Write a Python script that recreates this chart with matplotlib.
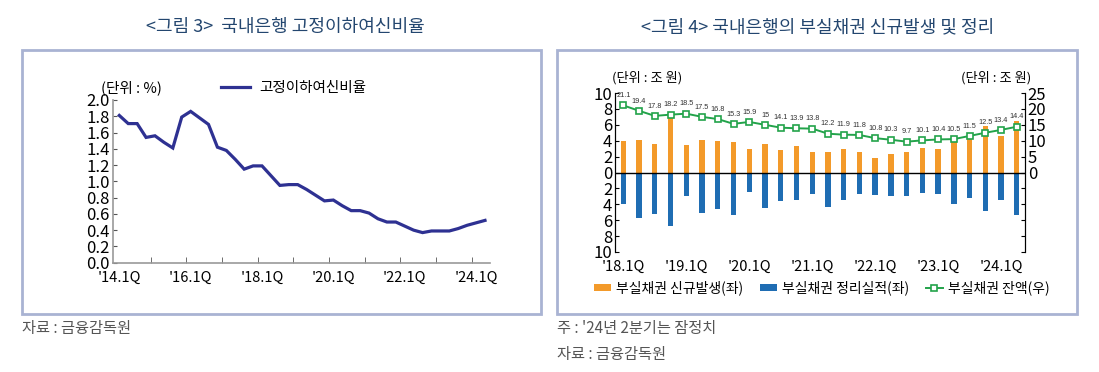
import numpy as np
import matplotlib
matplotlib.use('Agg')
import matplotlib.pyplot as plt
from matplotlib.patches import Rectangle
from matplotlib.ticker import FixedLocator, FuncFormatter

plt.rcParams['font.family'] = ['Noto Sans CJK KR', 'DejaVu Sans']
LABEL_FONT = ['Liberation Sans', 'DejaVu Sans']

# ---- data: figure 3 (14.1Q ~ 24.2Q, %)
npl_ratio = [1.81, 1.71, 1.71, 1.54, 1.56, 1.48, 1.41, 1.79, 1.86, 1.78,
             1.70, 1.42, 1.38, 1.27, 1.15, 1.19, 1.19, 1.07, 0.95, 0.96,
             0.96, 0.90, 0.83, 0.76, 0.77, 0.70, 0.64, 0.64, 0.61, 0.54,
             0.50, 0.50, 0.45, 0.40, 0.37, 0.39, 0.39, 0.39, 0.42, 0.46,
             0.49, 0.52]
left_xlabels = ["'14.1Q", "'16.1Q", "'18.1Q", "'20.1Q", "'22.1Q", "'24.1Q"]

# ---- data: figure 4 (18.1Q ~ 24.2Q, trillion won)
new_npl = [3.9, 4.1, 3.6, 7.3, 3.4, 4.1, 3.9, 3.8, 3.0, 3.6, 2.8, 3.3, 2.6,
           2.6, 2.9, 2.6, 1.8, 2.35, 2.6, 3.1, 2.9, 4.1, 4.45, 5.8, 4.6, 6.5]
resolved = [3.9, 5.7, 5.2, 6.7, 3.0, 5.1, 4.6, 5.3, 2.5, 4.5, 3.6, 3.4, 2.7,
            4.3, 3.4, 2.7, 2.85, 3.0, 3.0, 2.6, 2.7, 3.9, 3.2, 4.8, 3.5, 5.4]
npl_balance = [21.1, 19.4, 17.8, 18.2, 18.5, 17.5, 16.8, 15.3, 15.9, 15.0,
               14.1, 13.9, 13.8, 12.2, 11.9, 11.8, 10.8, 10.3, 9.7, 10.1,
               10.4, 10.5, 11.5, 12.5, 13.4, 14.4]
right_xlabels = ["'18.1Q", "'19.1Q", "'20.1Q", "'21.1Q", "'22.1Q", "'23.1Q", "'24.1Q"]

W, H = 1099, 372
fig = plt.figure(figsize=(W / 100, H / 100), dpi=100)


def fx(px):
    return px / W


def fy(py):
    return 1 - py / H


title_color = '#23466f'
note_color = '#555555'
frame_color = '#a9b3d3'

# frames
for x0, x1 in [(22, 541), (557, 1077)]:
    fig.patches.append(Rectangle((fx(x0), fy(314)), fx(x1 - x0), (314 - 50) / H,
                                 transform=fig.transFigure, fill=False,
                                 edgecolor=frame_color, lw=2.0))

fig.text(fx(285), fy(27), '<그림 3>  국내은행 고정이하여신비율', ha='center', va='center',
         fontsize=13, color=title_color)
fig.text(fx(818), fy(27), '<그림 4> 국내은행의 부실채권 신규발생 및 정리', ha='center', va='center',
         fontsize=13, color=title_color)

fig.text(fx(22), fy(329), '자료 : 금융감독원', ha='left', va='center', fontsize=11, color=note_color)
fig.text(fx(557), fy(329), "주 : '24년 2분기는 잠정치", ha='left', va='center', fontsize=11, color=note_color)
fig.text(fx(557), fy(355), '자료 : 금융감독원', ha='left', va='center', fontsize=11, color=note_color)

# ---- left chart
axL = fig.add_axes([fx(112.7), fy(262.7), fx(490 - 112.7), (262.7 - 100) / H])
xq = np.arange(len(npl_ratio))
axL.plot(xq, npl_ratio, color='#2e3192', lw=2.3, solid_joinstyle='miter', label='고정이하여신비율')
axL.set_xlim(-0.74, 41.56)
axL.set_ylim(0, 2.0)
yt = np.arange(0, 2.01, 0.2)
axL.set_yticks(yt)
axL.set_yticklabels([f'{v:.1f}' for v in yt], fontsize=12)
axL.set_xticks(np.arange(0, 41, 8))
axL.set_xticklabels(left_xlabels, fontsize=10.5)
axL.xaxis.set_minor_locator(FixedLocator(np.arange(3.5, 41, 4)))
axL.tick_params(axis='x', which='major', length=0, pad=6)
axL.tick_params(axis='x', which='minor', direction='in', length=4, color='#555555')
axL.tick_params(axis='y', direction='in', length=3, color='#555555', pad=2)
for s in ['top', 'right']:
    axL.spines[s].set_visible(False)
for s in ['left', 'bottom']:
    axL.spines[s].set_color('#999999')
    axL.spines[s].set_linewidth(1.2)
axL.legend(loc='center left', bbox_to_anchor=(fx(208), fy(88)), bbox_transform=fig.transFigure,
           frameon=False, fontsize=10.5, handlelength=2.0, handletextpad=0.6)
fig.text(fx(101), fy(88), '(단위 : %)', ha='left', va='center', fontsize=10.5)

# ---- right chart
axR = fig.add_axes([fx(615), fy(252), fx(1025 - 615), (252 - 93) / H])
xb = np.arange(len(new_npl))
axR.bar(xb, new_npl, width=0.34, color='#f39a2a', label='부실채권 신규발생(좌)')
axR.bar(xb, -np.array(resolved), width=0.34, color='#1f6db3', label='부실채권 정리실적(좌)')
axR.axhline(0, color='black', lw=1.0)
axR.set_xlim(-0.53, 25.52)
axR.set_ylim(-10, 10)
axR.set_yticks(np.arange(-10, 11, 2))
axR.yaxis.set_major_formatter(FuncFormatter(lambda v, p: f'{abs(v):.0f}'))
axR.tick_params(axis='y', direction='in', length=3, labelsize=12, pad=2)
axR.set_xticks(np.arange(0, 26, 4))
axR.set_xticklabels(right_xlabels, fontsize=10.5)
axR.tick_params(axis='x', length=0, pad=6)
for s in ['top', 'bottom']:
    axR.spines[s].set_visible(False)

axR2 = axR.twinx()
axR2.plot(xb, npl_balance, color='#22a34a', lw=1.4, marker='s', markersize=4.5,
          markerfacecolor='white', markeredgecolor='#22a34a', markeredgewidth=1.2,
          label='부실채권 잔액(우)')
axR2.set_ylim(-25, 25)
axR2.set_yticks(np.arange(-25, 26, 5))
axR2.yaxis.set_major_formatter(FuncFormatter(lambda v, p: f'{v:.0f}' if v >= 0 else ''))
axR2.tick_params(axis='y', direction='in', length=3, labelsize=12, pad=2)
for s in ['top', 'bottom']:
    axR2.spines[s].set_visible(False)
for i, v in enumerate(npl_balance):
    axR2.annotate(f'{v:g}', (i, v), xytext=(0, 4.5), textcoords='offset points',
                  ha='center', va='bottom', fontsize=5.3, color='#333333', family=LABEL_FONT)

fig.text(fx(612), fy(78), '(단위 : 조 원)', ha='left', va='center', fontsize=9.5)
fig.text(fx(1031), fy(78), '(단위 : 조 원)', ha='right', va='center', fontsize=9.5)

handles = [axR.containers[0], axR.containers[1], axR2.get_lines()[0]]
labels = ['부실채권 신규발생(좌)', '부실채권 정리실적(좌)', '부실채권 잔액(우)']
fig.legend(handles, labels, loc='center', bbox_to_anchor=(fx(822), fy(288)), ncol=3,
           frameon=False, fontsize=10, handlelength=1.2, handleheight=0.4,
           handletextpad=0.4, columnspacing=1.2)

fig.savefig('out.png', dpi=100)
